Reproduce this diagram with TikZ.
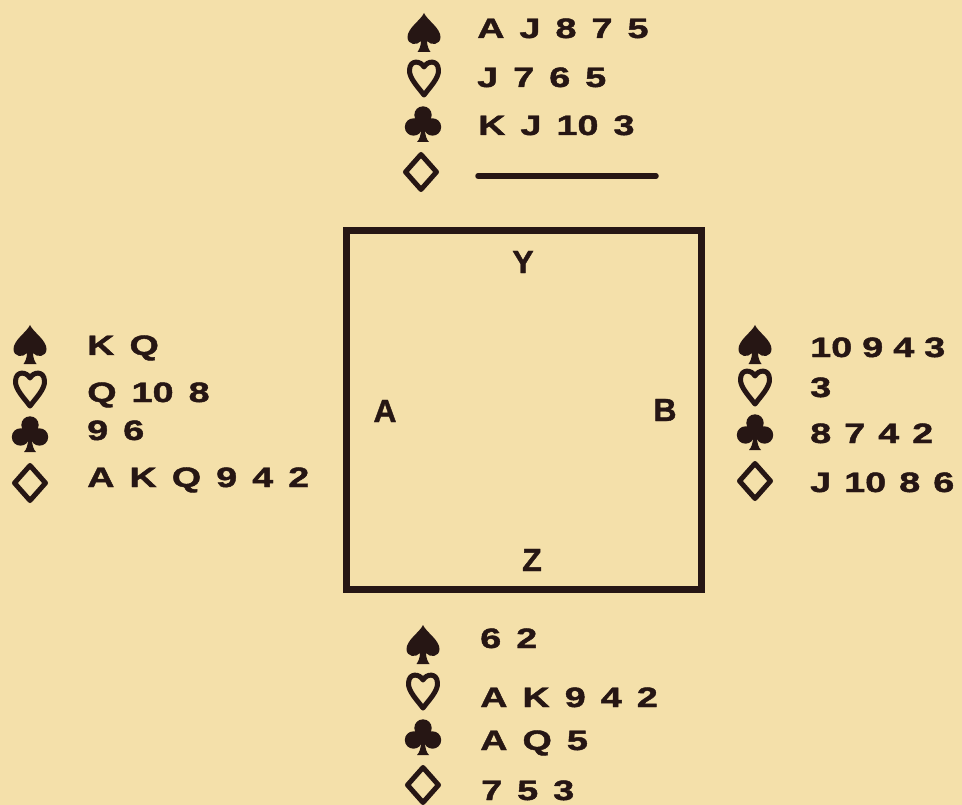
\documentclass[tikz,border=0pt]{standalone}
\usepackage{fontspec}
\newfontfamily\cardfont[FakeStretch=1.35,FakeBold=1.6]{Liberation Sans}
\newfontfamily\seatfont[FakeBold=1.2]{Liberation Sans}
\protected\def\handfont{\cardfont\bfseries\fontsize{28}{32}\selectfont\spaceskip=15pt\relax}
\protected\def\handfontnarrow{\handfont\spaceskip=10pt\relax}
\protected\def\handfontmid{\handfont\spaceskip=13pt\relax}
\definecolor{paper}{RGB}{244,224,170}
\definecolor{ink}{RGB}{38,22,20}
\tikzset{
  handtext/.style={anchor=base west, inner sep=0pt, text=ink, font=\handfont},
  handnarrow/.style={handtext, font=\handfontnarrow},
  handmid/.style={handtext, font=\handfontmid},
  seat/.style={anchor=center, inner sep=0pt, text=ink,
    font=\seatfont\bfseries\fontsize{32}{36}\selectfont},
  tablebox/.style={draw=ink, line width=7pt, inner sep=0pt, minimum width=355pt, minimum height=358pt},
  spadesym/.pic={\begin{scope}[yscale=-1]
    \fill[ink] (0,20) .. controls (-3,13) and (-16.5,5) .. (-16.5,-4)
      .. controls (-16.5,-12) and (-7,-13) .. (-3,-8)
      .. controls (-3,-13) and (-5,-17) .. (-6.5,-19) -- (6.5,-19)
      .. controls (5,-17) and (3,-13) .. (3,-8)
      .. controls (7,-13) and (16.5,-12) .. (16.5,-4)
      .. controls (16.5,5) and (3,13) .. (0,20) -- cycle;
    \end{scope}},
  heartsym/.pic={\begin{scope}[yscale=-1]
    \draw[ink, line width=5pt, line join=round] (0,11)
      .. controls (-3,17) and (-14,19) .. (-14.5,8)
      .. controls (-15,0) and (-6,-9) .. (0,-17)
      .. controls (6,-9) and (15,0) .. (14.5,8)
      .. controls (14,19) and (3,17) .. (0,11) -- cycle;
    \end{scope}},
  clubsym/.pic={\begin{scope}[yscale=-1]
    \fill[ink] (0,9) circle (8.7) (-9.5,-3) circle (8.7) (9.5,-3) circle (8.7);
    \fill[ink] (-5,5) rectangle (5,-6);
    \fill[ink] (-1.8,-3) .. controls (-1.8,-12) and (-4,-16) .. (-6,-18) -- (6,-18)
      .. controls (4,-16) and (1.8,-12) .. (1.8,-3) -- cycle;
    \end{scope}},
  diamsym/.pic={\begin{scope}[yscale=-1]
    \draw[ink, line width=5pt, line join=round] (0,17.5) -- (-15.5,0) -- (0,-17.5) -- (15.5,0) -- cycle;
    \end{scope}},
}
\begin{document}
\begin{tikzpicture}[x=1pt,y=-1pt]
\fill[paper] (0,0) rectangle (962,805);
\useasboundingbox (0,0) rectangle (962,805);

% table
\node[tablebox] (table) at (523.5,410) {};
\node[seat] (Y) at (523,262) {Y};
\node[seat] (A) at (385,411) {A};
\node[seat] (B) at (665,410) {B};
\node[seat] (Z) at (532,560) {Z};

% North (Y)
\pic (ns) at (424,33) {spadesym};
\pic (nh) at (424,78) {heartsym};
\pic (nc) at (423,124) {clubsym};
\pic (nd) at (421,172) {diamsym};
\node[handtext] (nS) at (477,38) {A J 8 7 5};
\node[handtext] (nH) at (477,87) {J 7 6 5};
\node[handtext] (nC) at (478,135) {K J 10 3};
\coordinate (nDa) at (478,176);
\coordinate (nDb) at (656,176);
\draw[ink, line width=5.5pt, line cap=round] (nDa) -- (nDb);

% West (A)
\pic (ws) at (30,345) {spadesym};
\pic (wh) at (30,389) {heartsym};
\pic (wc) at (30,434) {clubsym};
\pic (wd) at (30,483) {diamsym};
\node[handtext] (wS) at (87,355) {K Q};
\node[handtext] (wH) at (87,402) {Q 10 8};
\node[handtext] (wC) at (87,440) {9 6};
\node[handtext] (wD) at (87,487) {A K Q 9 4 2};

% East (B)
\pic (es) at (755,345) {spadesym};
\pic (eh) at (755,387) {heartsym};
\pic (ec) at (755,432) {clubsym};
\pic (ed) at (755,481) {diamsym};
\node[handnarrow] (eS) at (810,357) {10 9 4 3};
\node[handtext] (eH) at (810,397) {3};
\node[handmid] (eC) at (810,443) {8 7 4 2};
\node[handmid] (eD) at (810,492) {J 10 8 6};

% South (Z)
\pic (ss) at (423,645) {spadesym};
\pic (sh) at (423,691) {heartsym};
\pic (sc) at (423,737) {clubsym};
\pic (sd) at (423,785) {diamsym};
\node[handtext] (sS) at (480,648) {6 2};
\node[handtext] (sH) at (480,707) {A K 9 4 2};
\node[handtext] (sC) at (480,750) {A Q 5};
\node[handtext] (sD) at (481,800) {7 5 3};
\end{tikzpicture}
\end{document}
